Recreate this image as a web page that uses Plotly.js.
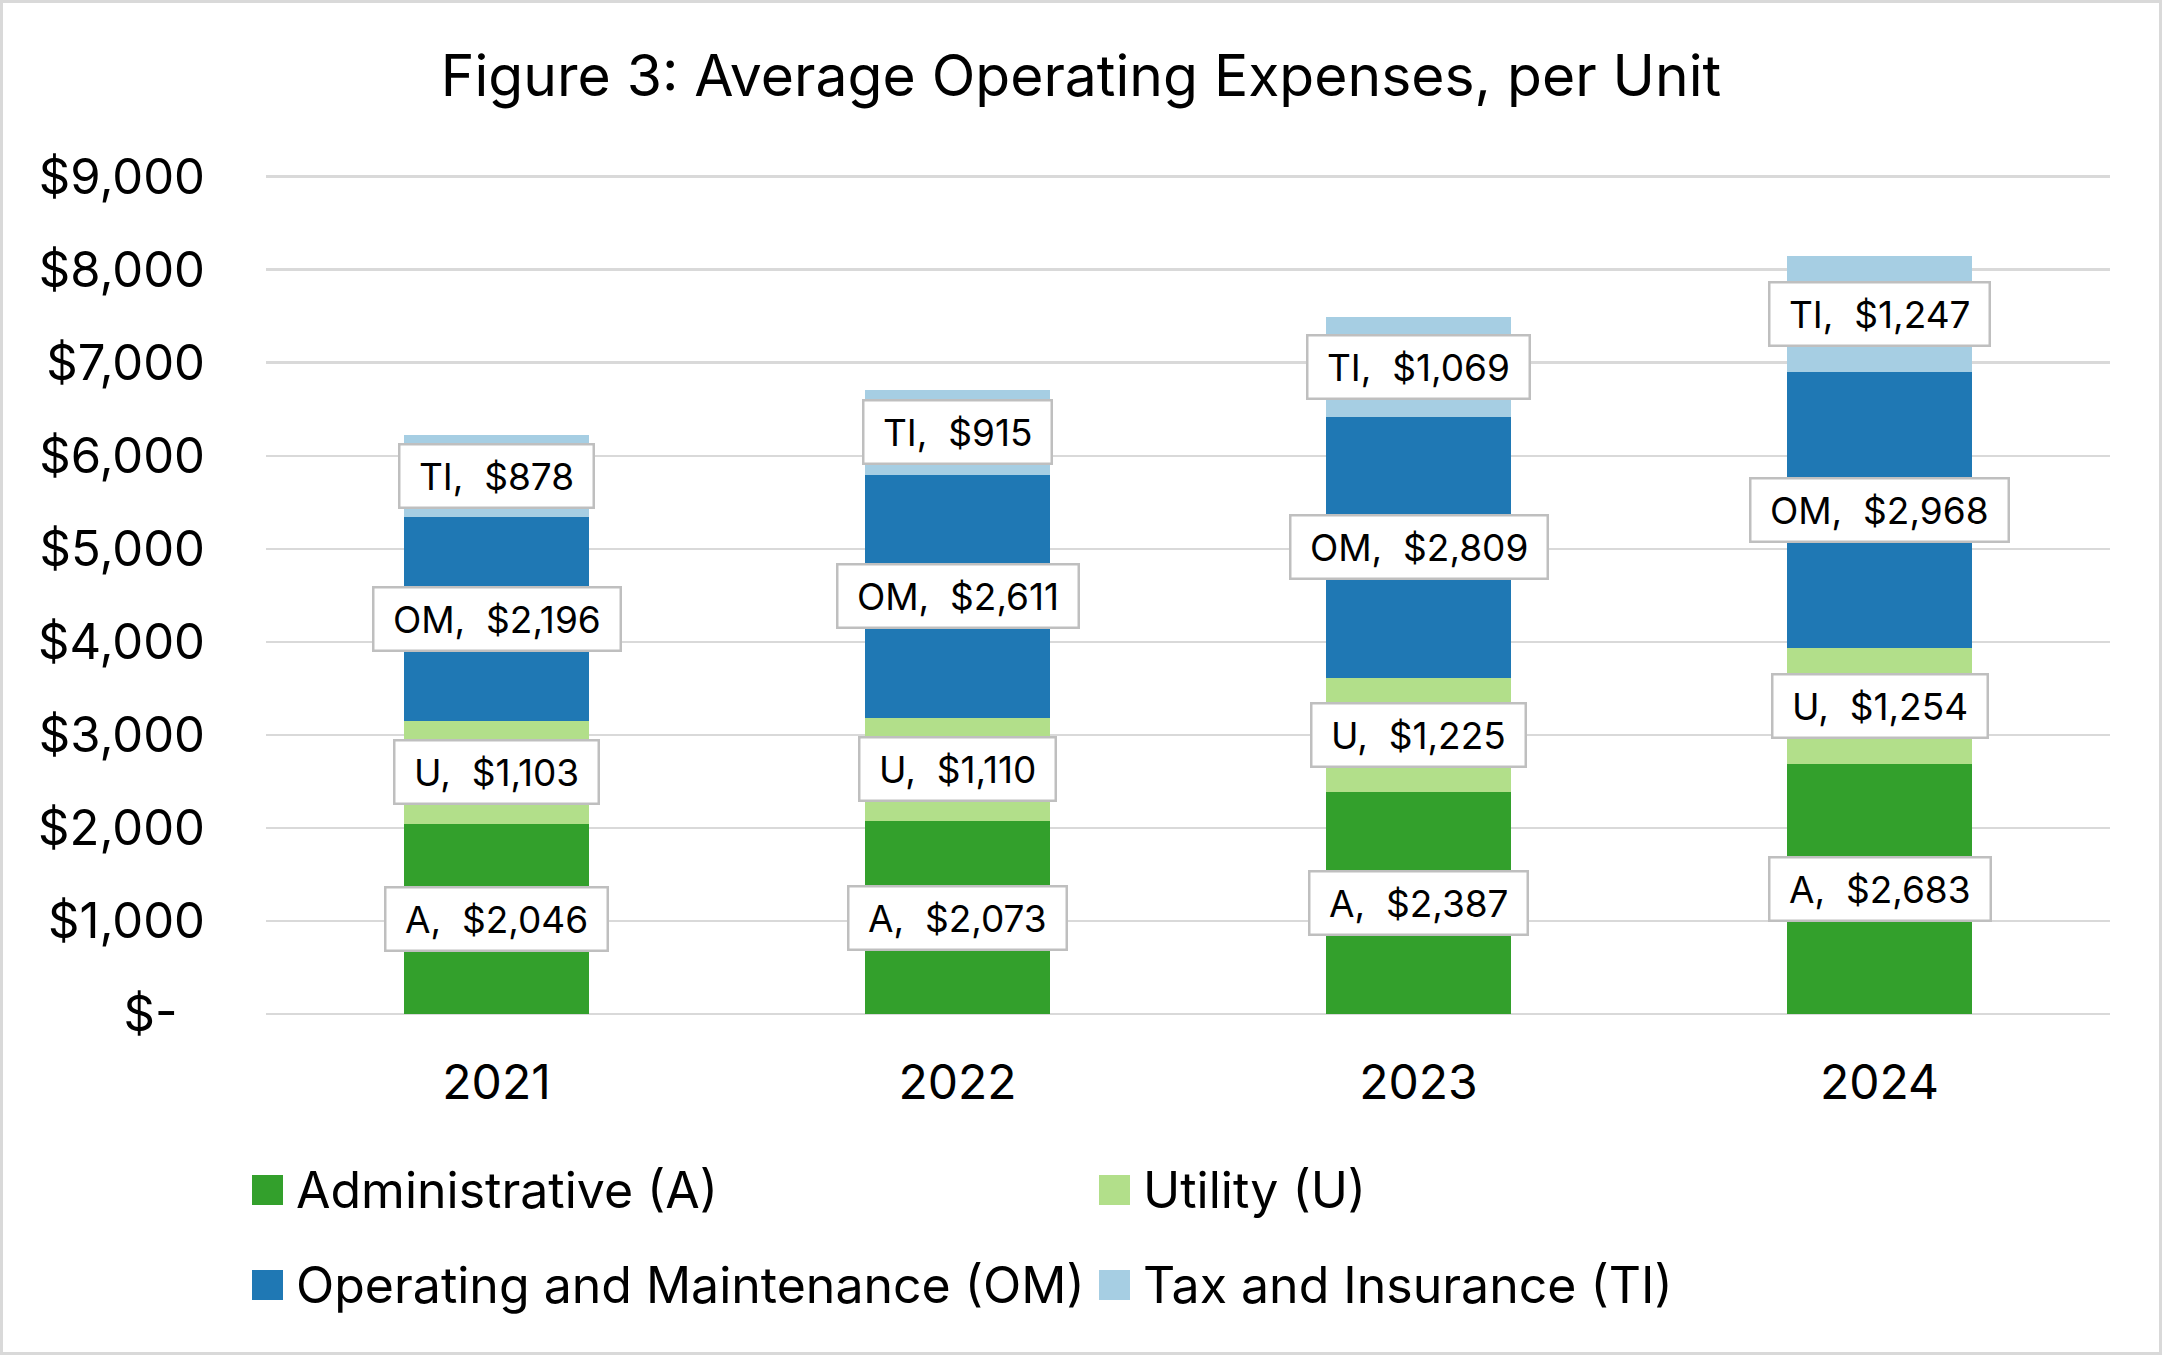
<!DOCTYPE html>
<html>
<head>
<meta charset="utf-8">
<script src="https://cdn.plot.ly/plotly-3.0.1.min.js"></script>
<style>
  html, body { margin: 0; padding: 0; background: #fff; }
  #chart { width: 2162px; height: 1355px; }
  #frame { position: absolute; left: 0; top: 0; width: 2162px; height: 1355px;
           box-sizing: border-box; border: 3px solid #D9D9D9; pointer-events: none; }
</style>
</head>
<body>
<div id="chart"></div>
<div id="frame"></div>
<script>
// Average operating expenses per unit, by year and category
const years = ['2021', '2022', '2023', '2024'];
const administrative = [2046, 2073, 2387, 2683];
const utility = [1103, 1110, 1225, 1254];
const operatingMaintenance = [2196, 2611, 2809, 2968];
const taxInsurance = [878, 915, 1069, 1247];

const seriesNames = ['Administrative (A)', 'Utility (U)', 'Operating and Maintenance (OM)', 'Tax and Insurance (TI)'];
const seriesAbbr = ['A', 'U', 'OM', 'TI'];
const seriesColors = ['#33A02C', '#B2DF8A', '#1F78B4', '#A6CEE3'];

const yTickVals = [0, 1000, 2000, 3000, 4000, 5000, 6000, 7000, 8000, 9000];
const yTickText = ['$-\u00a0\u00a0', '$1,000', '$2,000', '$3,000', '$4,000', '$5,000', '$6,000', '$7,000', '$8,000', '$9,000'];

const series = [administrative, utility, operatingMaintenance, taxInsurance];
const FONT = 'Inter, "Open Sans", sans-serif';
const NB = '\u00a0';

// plot-area geometry in pixels; the y range runs a little past 9,000
// so that the top gridline is drawn inside the plot area
const W = 2162, H = 1355;
const Y_MAX = 9050;
const M = { l: 266, r: 52, t: 172, b: 341 };
const plotW = W - M.l - M.r, plotH = H - M.t - M.b;
const px = x => (x - M.l) / plotW;
const py = y => (H - M.b - y) / plotH;

const traces = series.map((vals, i) => ({
  type: 'bar',
  name: seriesNames[i],
  x: years,
  y: vals,
  marker: { color: seriesColors[i], line: { width: 0 } },
  hoverinfo: 'x+y+name',
  showlegend: false
}));

// boxed value labels at the middle of every stacked segment
// (category axes take the category index for annotation positions)
const annotations = [];
const base = years.map(() => 0);
series.forEach((vals, i) => {
  vals.forEach((v, j) => {
    annotations.push({
      x: j, y: base[j] + v / 2, xref: 'x', yref: 'y',
      text: NB + seriesAbbr[i] + ',' + NB + ' $' + v.toLocaleString('en-US') + NB,
      showarrow: false,
      font: { family: FONT, size: 37, color: '#000' },
      bgcolor: '#FFFFFF', bordercolor: '#BFBFBF', borderwidth: 2.5, borderpad: 8
    });
    base[j] += v;
  });
});

// two-column legend below the chart
const shapes = [];
const legendCols = [252, 1099];
const legendRows = [1190, 1285];
seriesNames.forEach((name, i) => {
  const cx = legendCols[i % 2], cy = legendRows[Math.floor(i / 2)];
  shapes.push({
    type: 'rect', xref: 'paper', yref: 'paper',
    x0: px(cx), x1: px(cx + 31), y0: py(cy + 15), y1: py(cy - 15),
    fillcolor: seriesColors[i], line: { width: 0 }
  });
  annotations.push({
    xref: 'paper', yref: 'paper', x: px(cx + 42), y: py(cy),
    xanchor: 'left', yanchor: 'middle', showarrow: false,
    text: name, font: { family: FONT, size: 50, color: '#000' }
  });
});

const layout = {
  width: W, height: H,
  margin: M,
  paper_bgcolor: '#FFFFFF', plot_bgcolor: '#FFFFFF',
  barmode: 'stack', bargap: 0.6,
  title: {
    text: 'Figure 3: Average Operating Expenses, per Unit',
    font: { family: FONT, size: 57, color: '#000' },
    x: 0.5, xref: 'container', xanchor: 'center',
    y: 1 - 76 / H, yref: 'container', yanchor: 'middle'
  },
  xaxis: {
    type: 'category',
    range: [-0.5, years.length - 0.5],
    showgrid: false, showline: false, zeroline: false, ticks: '',
    tickfont: { family: FONT, size: 48, color: '#000' },
    ticklabelstandoff: 36
  },
  yaxis: {
    range: [0, Y_MAX],
    tickvals: yTickVals, ticktext: yTickText,
    showgrid: true, gridcolor: '#D9D9D9', gridwidth: 2.5,
    zeroline: true, zerolinecolor: '#D9D9D9', zerolinewidth: 2.5,
    showline: false, ticks: '',
    tickfont: { family: FONT, size: 49, color: '#000' },
    ticklabelstandoff: 60
  },
  annotations: annotations,
  shapes: shapes,
  showlegend: false
};

Plotly.newPlot('chart', traces, layout, { displayModeBar: false, staticPlot: true });
</script>
</body>
</html>
